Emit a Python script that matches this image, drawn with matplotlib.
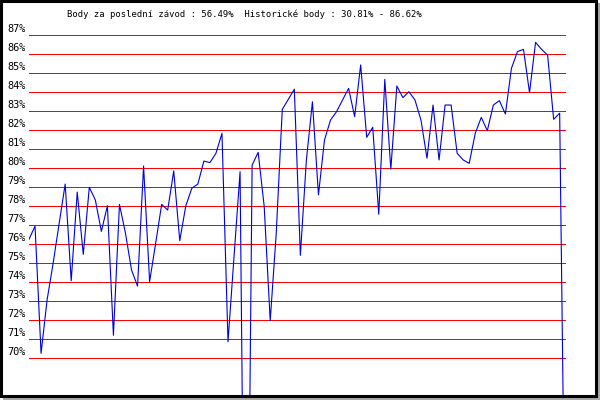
import matplotlib
matplotlib.use("Agg")
import matplotlib.pyplot as plt
from matplotlib.patches import Rectangle

plt.rcParams["font.family"] = ["DejaVu Sans Mono"]

# body (%) per zavod
body = [
    76.26, 76.96, 70.26, 73.07, 75.0, 77.1, 79.17, 74.08, 78.75, 75.47,
    79.0, 78.33, 76.68, 78.03, 71.21, 78.1, 76.58, 74.65, 73.8, 80.12,
    74.03, 76.05, 78.1, 77.8, 79.86, 76.19, 78.02, 78.95, 79.17, 80.38,
    80.3, 80.79, 81.84, 70.87, 75.35, 79.82, 47.0, 80.17, 80.84, 78.0,
    71.98, 76.58, 83.1, 83.63, 84.16, 75.42, 80.44, 83.5, 78.6, 81.49,
    82.54, 82.98, 83.6, 84.21, 82.72, 85.44, 81.63, 82.16, 77.58, 84.68,
    79.95, 84.33, 83.72, 84.03, 83.6, 82.54, 80.53, 83.33, 80.44, 83.33,
    83.33, 80.79, 80.44, 80.26, 81.84, 82.68, 81.98, 83.33, 83.56, 82.86,
    85.26, 86.14, 86.26, 83.98, 86.63, 86.26, 85.96, 82.58, 82.9, 56.49,
]
levels = list(range(87, 69, -1))
level_labels = [f"{lv}%" for lv in levels]
title = "Body za poslední závod : 56.49%  Historické body : 30.81% - 86.62%"

W, H = 600, 400
fig = plt.figure(figsize=(6, 4), dpi=100)
fig.patch.set_facecolor("white")

# shadow + black frame
fig.patches.append(Rectangle((3 / W, 0), 597 / W, 397 / H, transform=fig.transFigure,
                             facecolor="#a8a8a8", edgecolor="none", zorder=0))
fig.patches.append(Rectangle((1 / W, 4.5 / H), 594.5 / W, 394.5 / H, transform=fig.transFigure,
                             facecolor="white", edgecolor="black", linewidth=2.2, zorder=1))

# plot area in pixels: x 29..565.7, y 20..394.5 (from top)
left, right = 29, 565.7
top, bottom = 20, 394.5
ax = fig.add_axes([left / W, (H - bottom) / H, (right - left) / W, (bottom - top) / H])
ax.set_facecolor("none")
ax.set_zorder(2)
for s in ax.spines.values():
    s.set_visible(False)
ax.set_xticks([])
ax.set_yticks([])

px = 19.0  # pixels per 1 %
ax.set_xlim(0, len(body) - 1)
ax.set_ylim(87 - (bottom - 35.3) / px, 87 + (35.3 - top) / px)

ax.hlines(levels, 0, len(body) - 1, colors="#ff0000", linewidth=0.72, antialiased=False)
for lv, lab in zip(levels, level_labels):
    ax.text(-0.5, lv + 6 / px, lab, ha="right", va="center", fontsize=7.4,
            color="black", clip_on=False)

ax.plot(range(len(body)), body, color="#0000dd", linewidth=0.8, antialiased=True)

fig.text(244 / W, 1 - 14 / H, title, ha="center", va="center", fontsize=6.4, color="black")

fig.savefig("out.png", dpi=100)
